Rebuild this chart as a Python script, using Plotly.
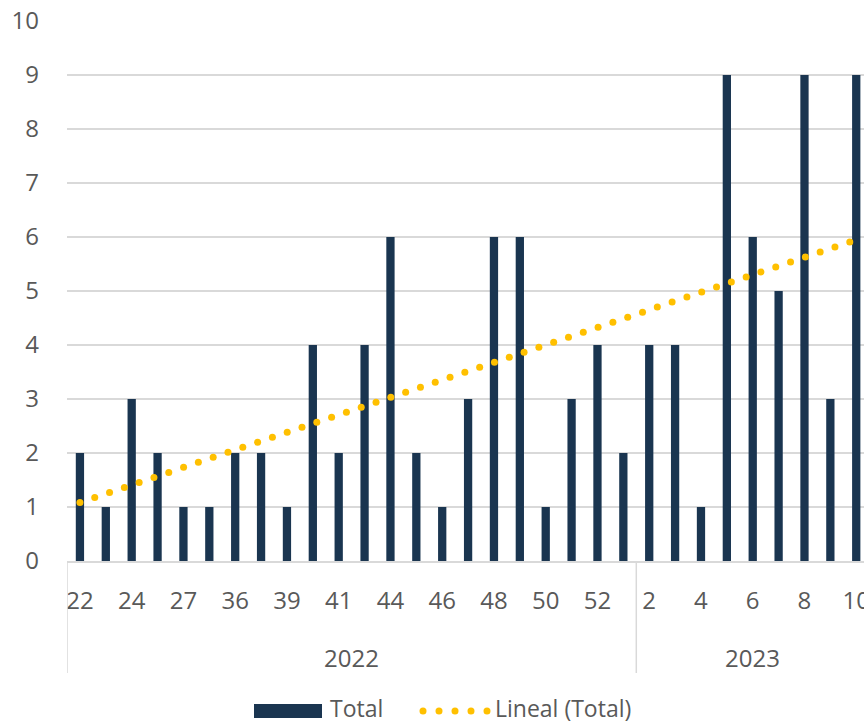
import numpy as np
import plotly.graph_objects as go

# ---- data ----
weeks_2022 = ["22", "23", "24", "26", "27", "35", "36", "38", "39", "40", "41",
              "43", "44", "45", "46", "47", "48", "49", "50", "51", "52", "53"]
weeks_2023 = ["2", "3", "4", "5", "6", "7", "8", "9", "10"]
totals_2022 = [2, 1, 3, 2, 1, 1, 2, 2, 1, 4, 2, 4, 6, 2, 1, 3, 6, 6, 1, 3, 4, 2]
totals_2023 = [4, 4, 1, 9, 6, 5, 9, 3, 9]
years = ["2022", "2023"]
y_ticks = list(range(0, 11))
legend_names = ["Total", "Lineal (Total)"]

categories = weeks_2022 + weeks_2023
totals = totals_2022 + totals_2023
n = len(categories)

BAR = "#1a3550"
GOLD = "#FFC000"
TXT = "#595959"
GRID = "#d9d9d9"
FONT = "Open Sans"
FS = 24

W, H = 864, 725
L, R, T, B = 67, 0, 21, 164
PW, PH = W - L - R, H - T - B


def px(xp):  # pixel x -> paper x
    return (xp - L) / PW


def py(yp):  # pixel y -> paper y
    return (H - B - yp) / PH


# linear trend (Excel "Lineal")
idx = np.arange(n)
slope, intercept = np.polyfit(idx, np.array(totals, dtype=float), 1)
t = np.linspace(0, n - 1.25, 53)
trend = intercept + slope * t

fig = go.Figure()
fig.add_trace(go.Bar(x=categories, y=totals, name=legend_names[0],
                     marker=dict(color=BAR, line=dict(width=0)),
                     width=0.32, showlegend=False))
fig.add_trace(go.Scatter(x=t, y=trend, mode="markers", showlegend=False,
                         name=legend_names[1],
                         marker=dict(color=GOLD, size=7, line=dict(width=0)),
                         hoverinfo="skip", xaxis="x2"))

fig.update_layout(
    width=W, height=H,
    margin=dict(l=L, r=R, t=T, b=B, autoexpand=False),
    paper_bgcolor="white", plot_bgcolor="white",
    font=dict(family=FONT, size=FS, color=TXT),
    showlegend=False,
    xaxis=dict(type="category", categoryorder="array", categoryarray=categories,
               range=[-0.5, n - 0.7], automargin=False,
               tickmode="array", tickvals=categories[::2], ticktext=categories[::2],
               showgrid=False, showline=True, linecolor=GRID, linewidth=1.5,
               ticks="", ticklabelstandoff=17, tickfont=dict(size=FS, color=TXT),
               zeroline=False),
    xaxis2=dict(overlaying="x", range=[-0.5, n - 0.7], visible=False),
    yaxis=dict(range=[0, 10], tickmode="array", tickvals=y_ticks, automargin=False,
               showgrid=True, gridcolor=GRID, gridwidth=1.5,
               zeroline=False, showline=False, ticks="",
               ticklabelstandoff=27, tickfont=dict(size=FS, color=TXT)),
)

# group dividers and year labels under the axis
n22 = len(weeks_2022)
for xv in [-0.5, n22 - 0.5]:
    fig.add_shape(type="line", xref="x", yref="paper", x0=xv, x1=xv, y0=0, y1=py(673),
                  line=dict(color=GRID, width=1.5))
centers = [(n22 - 1) / 2, n22 - 0.5 + len(weeks_2023) / 2]
for yr, cx in zip(years, centers):
    fig.add_annotation(x=cx, y=py(657), xref="x", yref="paper", text=yr,
                       showarrow=False, yanchor="middle",
                       font=dict(size=FS, color=TXT, family=FONT))

# legend (drawn in paper space)
ly = 708
fig.add_shape(type="rect", xref="paper", yref="paper",
              x0=px(254), x1=px(322), y0=py(704), y1=py(718),
              fillcolor=BAR, line=dict(width=0))
fig.add_annotation(x=px(329), y=py(ly), xref="paper", yref="paper", text=legend_names[0],
                   showarrow=False, xanchor="left", yanchor="middle", borderpad=0,
                   font=dict(size=23, color=TXT, family=FONT))
for k in range(5):
    cx = 423 + 16 * k
    fig.add_shape(type="circle", xref="paper", yref="paper",
                  x0=px(cx - 3.5), x1=px(cx + 3.5), y0=py(711 - 3.5), y1=py(711 + 3.5),
                  fillcolor=GOLD, line=dict(width=0))
fig.add_annotation(x=px(494), y=py(ly), xref="paper", yref="paper", text=legend_names[1],
                   showarrow=False, xanchor="left", yanchor="middle", borderpad=0,
                   font=dict(size=23, color=TXT, family=FONT))

fig.write_html("out.html")
